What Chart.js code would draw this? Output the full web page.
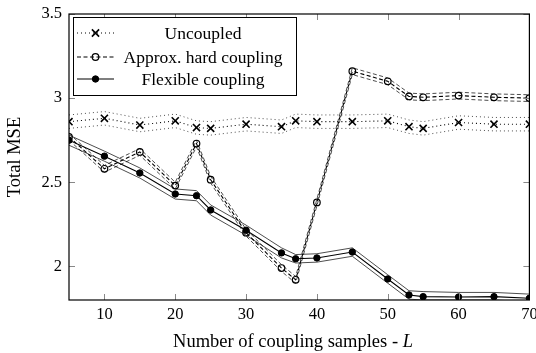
<!DOCTYPE html>
<html>
<head>
<meta charset="utf-8">
<script src="https://cdn.jsdelivr.net/npm/chart.js@4/dist/chart.umd.min.js"></script>
<style>
  html, body { margin: 0; padding: 0; background: #fff; }
  #wrap { width: 536px; height: 353px; }
</style>
</head>
<body>
<div id="wrap"><canvas id="mse" width="536" height="353"></canvas></div>
<script>
const FONT = "'Liberation Serif', 'Times New Roman', serif";

const L_VALUES = [5, 10, 15, 20, 23, 25, 30, 35, 37, 40, 45, 50, 53, 55, 60, 65, 70];
const X_TICKS = [10, 20, 30, 40, 50, 60, 70];
const Y_TICKS = [2, 2.5, 3, 3.5];

const uncoupled   = [2.86, 2.88, 2.84, 2.865, 2.825, 2.82, 2.845, 2.83, 2.865, 2.86, 2.86, 2.865, 2.83, 2.82, 2.855, 2.845, 2.845];
const uncoupledHi = [2.90, 2.92, 2.88, 2.905, 2.865, 2.86, 2.885, 2.87, 2.905, 2.90, 2.90, 2.905, 2.87, 2.86, 2.895, 2.885, 2.885];
const uncoupledLo = [2.82, 2.84, 2.80, 2.825, 2.785, 2.78, 2.805, 2.79, 2.825, 2.82, 2.82, 2.825, 2.79, 2.78, 2.815, 2.805, 2.805];

const hard   = [2.77, 2.58, 2.68, 2.48, 2.73, 2.515, 2.20, 1.99, 1.92, 2.38, 3.16, 3.10, 3.01, 3.005, 3.015, 3.005, 3.00];
const hardHi = [2.79, 2.60, 2.70, 2.50, 2.75, 2.535, 2.22, 2.01, 1.94, 2.40, 3.18, 3.12, 3.03, 3.025, 3.035, 3.025, 3.02];
const hardLo = [2.75, 2.56, 2.66, 2.46, 2.71, 2.495, 2.18, 1.97, 1.90, 2.36, 3.14, 3.08, 2.99, 2.985, 2.995, 2.985, 2.98];

const flexible   = [2.75, 2.655, 2.555, 2.43, 2.42, 2.335, 2.215, 2.08, 2.045, 2.05, 2.085, 1.925, 1.83, 1.82, 1.818, 1.82, 1.81];
const flexibleHi = [2.78, 2.685, 2.585, 2.46, 2.45, 2.365, 2.245, 2.11, 2.07, 2.075, 2.11, 1.95, 1.855, 1.85, 1.845, 1.845, 1.835];
const flexibleLo = [2.72, 2.625, 2.525, 2.40, 2.39, 2.305, 2.185, 2.05, 2.02, 2.025, 2.06, 1.90, 1.805, 1.80, 1.80, 1.80, 1.79];

const LEGEND = ['Uncoupled', 'Approx. hard coupling', 'Flexible coupling'];

const pts = ys => ys.map((y, i) => ({ x: L_VALUES[i], y }));

const band = (ys, dash) => ({
    data: pts(ys), borderColor: '#000', borderWidth: 0.7, borderDash: dash,
    pointRadius: 0, tension: 0, fill: false, inLegend: false
});

const DASH_DOT = [1, 3];
const DASH = [4, 2.5];

function marker(ctx, d, cx, cy) {
    ctx.fillStyle = d.pointBackgroundColor;
    ctx.strokeStyle = '#000';
    ctx.lineWidth = d.pointBorderWidth;
    ctx.beginPath();
    if (d.pointStyle === 'circle') {
        ctx.arc(cx, cy, d.pointRadius, 0, Math.PI * 2);
        ctx.fill(); ctx.stroke();
    } else {
        const r = d.pointRadius * 0.72;
        ctx.moveTo(cx - r, cy - r); ctx.lineTo(cx + r, cy + r);
        ctx.moveTo(cx - r, cy + r); ctx.lineTo(cx + r, cy - r);
        ctx.stroke();
    }
}

// frame, inward ticks, axis titles and legend box
const decor = {
    id: 'decor',
    afterDatasetsDraw(chart) {
        const { ctx, chartArea: a, scales: { x, y } } = chart;
        ctx.save();
        ctx.strokeStyle = '#888';
        ctx.lineWidth = 1;
        ctx.beginPath();
        X_TICKS.forEach(t => {
            const px = Math.round(x.getPixelForValue(t)) + 0.5;
            ctx.moveTo(px, a.bottom); ctx.lineTo(px, a.bottom - 6);
            ctx.moveTo(px, a.top); ctx.lineTo(px, a.top + 6);
        });
        Y_TICKS.forEach(t => {
            const py = Math.round(y.getPixelForValue(t)) + 0.5;
            ctx.moveTo(a.left, py); ctx.lineTo(a.left + 6, py);
            ctx.moveTo(a.right, py); ctx.lineTo(a.right - 6, py);
        });
        ctx.stroke();

        ctx.strokeStyle = '#000';
        ctx.lineWidth = 1.2;
        ctx.strokeRect(a.left, a.top, a.right - a.left, a.bottom - a.top);

        // axis titles
        const TF = '18.5px ' + FONT;
        ctx.fillStyle = '#000';
        ctx.textBaseline = 'middle';
        ctx.font = TF;
        const main = 'Number of coupling samples - ';
        const w1 = ctx.measureText(main).width;
        ctx.font = 'italic ' + TF;
        const w2 = ctx.measureText('L').width;
        const sx = 293 - (w1 + w2) / 2;
        ctx.font = TF;
        ctx.textAlign = 'left';
        ctx.fillText(main, sx, 342);
        ctx.font = 'italic ' + TF;
        ctx.fillText('L', sx + w1, 342);

        ctx.save();
        ctx.translate(15, (a.top + a.bottom) / 2);
        ctx.rotate(-Math.PI / 2);
        ctx.font = TF;
        ctx.textAlign = 'center';
        ctx.fillText('Total MSE', 0, 0);
        ctx.restore();

        // legend
        const bx = 73, by = 17, bw = 223, bh = 78;
        ctx.fillStyle = '#fff';
        ctx.fillRect(bx, by, bw, bh);
        ctx.strokeStyle = '#000';
        ctx.lineWidth = 1;
        ctx.strokeRect(bx + 0.5, by + 0.5, bw, bh);
        const mains = chart.data.datasets.filter(d => d.inLegend !== false);
        const rows = [33, 57, 79];
        mains.forEach((d, i) => {
            const ry = rows[i];
            ctx.save();
            ctx.strokeStyle = '#000';
            ctx.lineWidth = d.borderWidth;
            ctx.setLineDash(d.borderDash || []);
            ctx.beginPath();
            ctx.moveTo(77, ry); ctx.lineTo(114, ry);
            ctx.stroke();
            ctx.setLineDash([]);
            marker(ctx, d, 95.5, ry);
            ctx.restore();
            ctx.fillStyle = '#000';
            ctx.font = '17.5px ' + FONT;
            ctx.textAlign = 'center';
            ctx.fillText(LEGEND[i], 203, ry + 1);
        });
        ctx.restore();
    }
};

new Chart(document.getElementById('mse'), {
    type: 'line',
    data: {
        datasets: [
            band(flexibleHi, []),
            band(flexibleLo, []),
            band(hardHi, DASH),
            band(hardLo, DASH),
            band(uncoupledHi, DASH_DOT),
            band(uncoupledLo, DASH_DOT),
            {
                label: LEGEND[0], data: pts(uncoupled),
                borderColor: '#000', borderWidth: 1.1, borderDash: DASH_DOT,
                pointStyle: 'crossRot', pointRadius: 5, pointBorderWidth: 1.6,
                pointBorderColor: '#000', pointBackgroundColor: '#000', tension: 0
            },
            {
                label: LEGEND[1], data: pts(hard),
                borderColor: '#000', borderWidth: 1.1, borderDash: DASH,
                pointStyle: 'circle', pointRadius: 3.3, pointBorderWidth: 1.2,
                pointBorderColor: '#000', pointBackgroundColor: 'rgba(255,255,255,0)', tension: 0
            },
            {
                label: LEGEND[2], data: pts(flexible),
                borderColor: '#000', borderWidth: 1.1,
                pointStyle: 'circle', pointRadius: 3.2, pointBorderWidth: 1,
                pointBorderColor: '#000', pointBackgroundColor: '#000', tension: 0
            }
        ]
    },
    options: {
        responsive: false,
        animation: false,
        layout: { padding: { left: 0, right: 4, top: 14, bottom: 0 } },
        plugins: { legend: { display: false }, tooltip: { enabled: false } },
        scales: {
            x: {
                type: 'linear', min: 5, max: 70,
                afterBuildTicks: s => { s.ticks = X_TICKS.map(v => ({ value: v })); },
                afterFit: s => { s.height = 53; s.paddingLeft = 0; s.paddingRight = 0; },
                grid: { display: false, drawTicks: false },
                border: { display: false },
                ticks: { color: '#000', font: { family: FONT, size: 16.5 }, padding: 5, maxRotation: 0 }
            },
            y: {
                min: 1.8, max: 3.5,
                afterBuildTicks: s => { s.ticks = Y_TICKS.map(v => ({ value: v })); },
                afterFit: s => { s.width = 69; s.paddingTop = 0; s.paddingBottom = 0; },
                grid: { display: false, drawTicks: false },
                border: { display: false },
                ticks: { color: '#000', font: { family: FONT, size: 16.5 }, padding: 7,
                    callback: v => String(v) }
            }
        }
    },
    plugins: [decor]
});
</script>
</body>
</html>
